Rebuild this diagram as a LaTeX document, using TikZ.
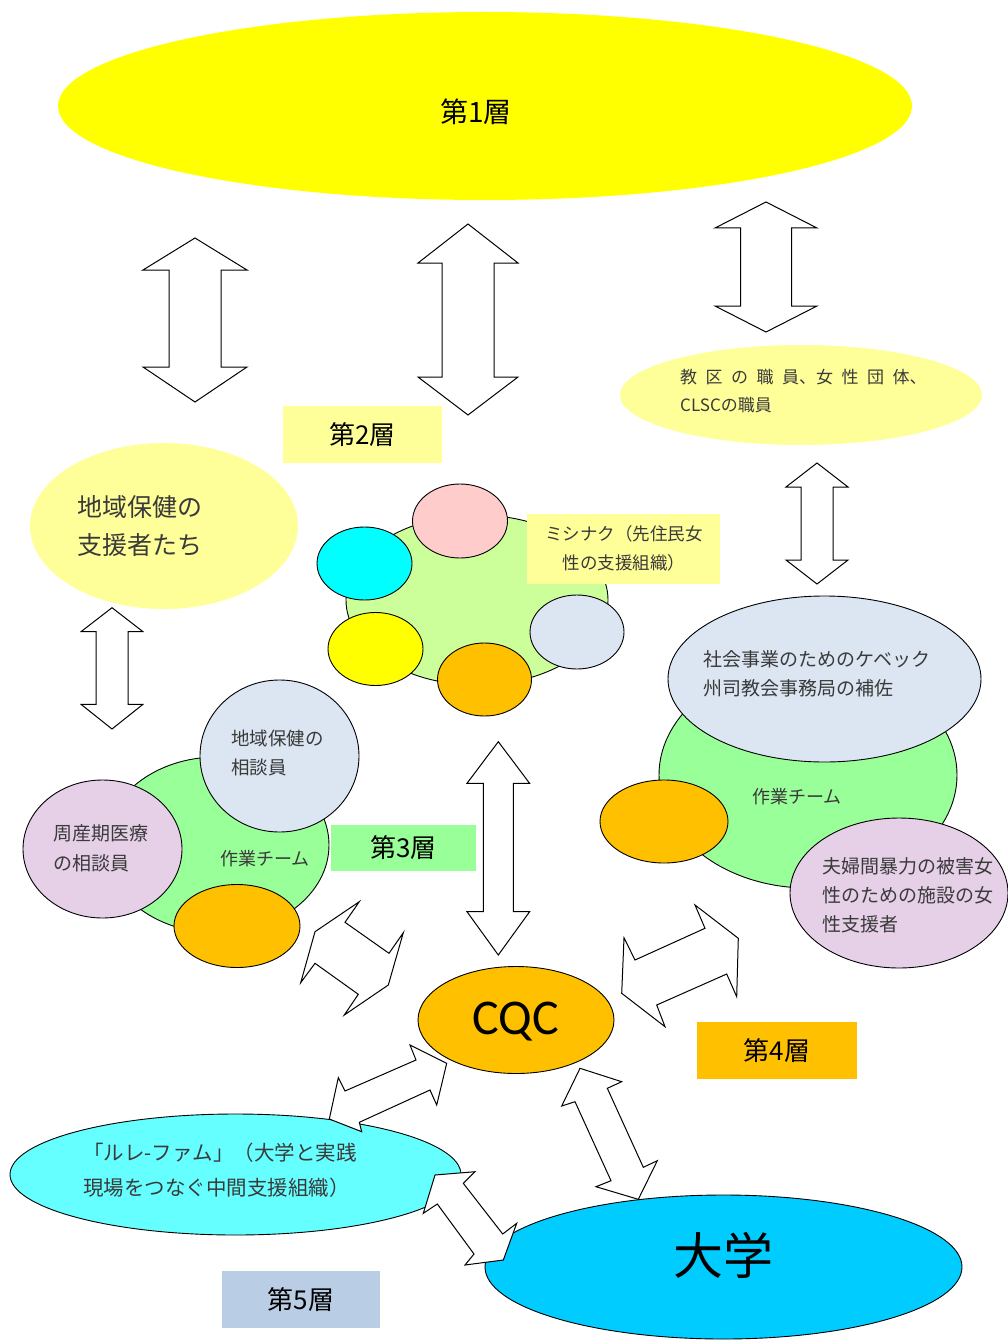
\documentclass[tikz,border=0pt]{standalone}
\usepackage{fontspec}
\setmainfont{Noto Sans CJK JP}
\newfontfamily\cqcfont{Carlito}
\usetikzlibrary{shapes.geometric}
\definecolor{bigyellow}{HTML}{FFFF00}
\definecolor{lyellow}{HTML}{FFFF99}
\definecolor{mgreen}{HTML}{CCFF99}
\definecolor{tgreen}{HTML}{99FF99}
\definecolor{grayblue}{HTML}{DCE6F2}
\definecolor{lavender}{HTML}{E6D0E8}
\definecolor{orng}{HTML}{FFC000}
\definecolor{pinkc}{HTML}{FFCCCC}
\definecolor{cyanc}{HTML}{00FFFF}
\definecolor{relais}{HTML}{66FFFF}
\definecolor{univ}{HTML}{00CCFF}
\definecolor{steel}{HTML}{B9CDE5}
\definecolor{textgray}{HTML}{3A3A3A}
\newcommand\gp{\hspace{8.5pt}}
\newcommand\vdarrow[7]{\draw[barrow] (#1,#2) -- ({#1+#6},#3) -- ({#1+#7},#3) -- ({#1+#7},#4) -- ({#1+#6},#4) -- (#1,#5) -- ({#1-#6},#4) -- ({#1-#7},#4) -- ({#1-#7},#3) -- ({#1-#6},#3) -- cycle;}
\begin{document}
\begin{tikzpicture}[x=1pt,y=-1pt,
  ell/.style={ellipse, inner sep=0pt, draw=black, line width=0.9pt},
  plainell/.style={ellipse, inner sep=0pt},
  barrow/.style={draw=black, fill=white, line width=1pt, line join=miter},
  lbl/.style={inner sep=0pt, text=textgray, align=left, anchor=west},
  layerbox/.style={inner sep=0pt, text=black, font=\fontsize{26}{30}\selectfont}]
\useasboundingbox[fill=white] (0,0) rectangle (1008,1340);

% Layer 1
\node[plainell, fill=bigyellow, minimum width=854pt, minimum height=188pt] (l1) at (485,106) {};
\node[inner sep=0pt, font=\fontsize{28}{30}\selectfont] (t1) at (476,112) {第1層};

% top arrows
\vdarrow{195}{238}{270}{367}{402}{52}{26}
\vdarrow{468}{224}{263}{377}{415}{50}{26}
\vdarrow{766}{202}{228}{306}{332}{51}{25.5}

% Layer 2 elements
\node[plainell, fill=lyellow, minimum width=362pt, minimum height=100pt] (kyoku) at (801,395) {};
\node[lbl, font=\fontsize{17}{28}\selectfont] (tkyoku) at (680,391) {教\gp 区\gp の\gp 職\gp 員、女\gp 性\gp 団\gp 体、\\CLSCの職員};
\node[layerbox, fill=lyellow, minimum width=159pt, minimum height=57pt] (b2) at (362.5,434.5) {第2層};

\node[plainell, fill=lyellow, minimum width=268pt, minimum height=166pt] (chiiki) at (164,526) {};
\node[lbl, font=\fontsize{25}{38}\selectfont] (tchiiki) at (77,526.5) {地域保健の\\支援者たち};

\vdarrow{817}{463}{487}{560}{584}{31}{16}
\vdarrow{112}{607.7}{631.7}{704.3}{729}{31}{16}

% Mishinak group
\node[ell, fill=mgreen, minimum width=262pt, minimum height=170pt] (mgr) at (477,600) {};
\node[ell, fill=pinkc, minimum width=95pt, minimum height=74pt] (mpink) at (460,521) {};
\node[ell, fill=cyanc, minimum width=95pt, minimum height=73pt] (mcyan) at (364.5,563.5) {};
\node[ell, fill=bigyellow, minimum width=95pt, minimum height=73pt] (myel) at (375.5,649) {};
\node[ell, fill=orng, minimum width=94pt, minimum height=73pt] (mor) at (484.5,679.5) {};
\node[ell, fill=grayblue, minimum width=94pt, minimum height=74pt] (mgray) at (577,632) {};
\node[inner sep=0pt, fill=lyellow, minimum width=193pt, minimum height=70pt] (mbox) at (623.5,549) {};
\node[inner sep=0pt, text=textgray, align=center, font=\fontsize{17.5}{29}\selectfont] (tmbox) at (624,548) {ミシナク（先住民女\\性の支援組織）};

% Left group
\node[ell, fill=tgreen, minimum width=224pt, minimum height=176pt] (lgr) at (217,845) {};
\node[ell, fill=grayblue, minimum width=159pt, minimum height=152pt] (lgray) at (279.5,756) {};
\node[lbl, font=\fontsize{18.5}{29}\selectfont] (tlgray) at (231,753) {地域保健の\\相談員};
\node[ell, fill=lavender, minimum width=159pt, minimum height=138pt] (llav) at (102.5,849) {};
\node[lbl, font=\fontsize{19}{30}\selectfont] (tllav) at (53,848) {周産期医療\\の相談員};
\node[ell, fill=orng, minimum width=126pt, minimum height=83pt] (lor) at (237,926) {};
\node[inner sep=0pt, text=textgray, font=\fontsize{18}{20}\selectfont] (tlteam) at (265,859) {作業チーム};
\node[layerbox, fill=tgreen, minimum width=145pt, minimum height=46pt] (b3) at (403.5,847.5) {第3層};

% Right group
\node[ell, fill=tgreen, minimum width=298pt, minimum height=226pt] (rgr) at (808,775) {};
\node[ell, fill=grayblue, minimum width=313pt, minimum height=166pt] (rgray) at (824.5,679) {};
\node[lbl, font=\fontsize{19}{29}\selectfont] (trgray) at (703,673.5) {社会事業のためのケベック\\州司教会事務局の補佐};
\node[ell, fill=orng, minimum width=128pt, minimum height=83pt] (ror) at (664,821.5) {};
\node[inner sep=0pt, text=textgray, font=\fontsize{18}{20}\selectfont] (trteam) at (797,797) {作業チーム};
\node[ell, fill=lavender, minimum width=218pt, minimum height=150pt] (rlav) at (899,893) {};
\node[lbl, font=\fontsize{19}{29}\selectfont] (trlav) at (822,895) {夫婦間暴力の被害女\\性のための施設の女\\性支援者};

% middle vertical arrow
\vdarrow{498.3}{741.7}{783.3}{911.7}{955}{31.3}{15}

% diagonal arrows upper
\draw[barrow] (359.3,901.7) -- (345,922.3) -- (389,953.3) -- (403.3,932.7) -- (388.3,985) -- (344.3,1015) -- (358.3,994.3) -- (315,963.3) -- (300.7,982.7) -- (315,931.7) -- cycle;
\draw[barrow] (695,905) -- (705,928.3) -- (635,960) -- (624,937.7) -- (621.7,993.3) -- (665,1026.7) -- (656.7,1005) -- (726.7,974) -- (736.7,996.7) -- (738.3,938.3) -- cycle;

% CQC
\node[ell, fill=orng, minimum width=196pt, minimum height=107pt] (cqc) at (516,1020) {};
\node[inner sep=0pt, font=\cqcfont\fontsize{50}{52}\selectfont] (tcqc) at (516,1022) {CQC};
\node[layerbox, fill=orng, minimum width=160pt, minimum height=57pt] (b4) at (777,1050.5) {第4層};

% Layer 5
\node[ell, fill=relais, minimum width=451pt, minimum height=121pt] (rel) at (235.5,1174.5) {};
\node[lbl, font=\fontsize{20.5}{35}\selectfont] (trel) at (83,1170.5) {「ルレ-ファム」（大学と実践\\現場をつなぐ中間支援組織）};
\node[ell, fill=univ, minimum width=477pt, minimum height=144pt] (uni) at (723.5,1267) {};
\node[inner sep=0pt, font=\fontsize{50}{52}\selectfont] (tuni) at (723,1255) {大学};
\node[layerbox, fill=steel, minimum width=158pt, minimum height=57pt] (b5) at (301,1299.5) {第5層};

% lower diagonal arrows
\draw[barrow] (410,1045) -- (416,1060) -- (345,1091) -- (338.3,1077.7) -- (329.3,1119) -- (361.7,1131.7) -- (359.3,1122.3) -- (430,1090) -- (436.7,1105) -- (446.7,1063.3) -- cycle;
\draw[barrow] (580,1068.3) -- (561.7,1106) -- (575,1101.7) -- (611,1180.7) -- (596,1186.7) -- (638.3,1199.3) -- (657.3,1160.7) -- (643.3,1167.3) -- (607.3,1088.3) -- (621.7,1081.7) -- cycle;
\draw[barrow] (475,1171.7) -- (463.3,1183.3) -- (502.7,1234) -- (516.7,1223.3) -- (503.3,1260) -- (465,1265) -- (474,1254) -- (437.3,1204) -- (423.3,1213.3) -- (435,1175) -- cycle;
\end{tikzpicture}
\end{document}
